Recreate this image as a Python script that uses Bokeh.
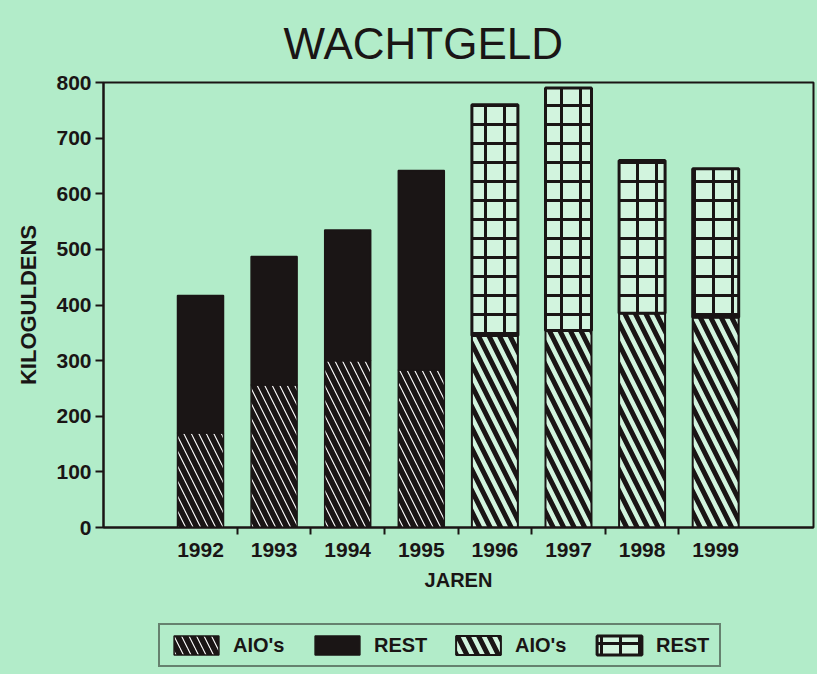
from bokeh.plotting import figure
from bokeh.models import (ColumnDataSource, FixedTicker, Range1d, Legend, LegendItem, Title)
from bokeh.layouts import column
from bokeh.transform import stack
from bokeh.embed import file_html
from bokeh.resources import INLINE

# ---- data ----
years = ["1992", "1993", "1994", "1995", "1996", "1997", "1998", "1999"]
aio_a = [170, 256, 300, 283]          # AIO's 1992-1995
rest_a = [247, 231, 235, 359]         # REST 1992-1995
aio_b = [345, 354, 385, 378]          # AIO's 1996-1999
rest_b = [415, 436, 275, 267]         # REST 1996-1999
y_ticks = [0, 100, 200, 300, 400, 500, 600, 700, 800]

pos = list(range(1, len(years) + 1))
src_a = ColumnDataSource(dict(x=pos[:4], aio=aio_a, rest=rest_a))
src_b = ColumnDataSource(dict(x=pos[4:], aio=aio_b, rest=rest_b))

BG = "#b2ecc9"
INK = "#1a1515"
LIGHT = "#d2f4de"
FONT = "Liberation Sans"
W = 0.625

STYLE_A_AIO = dict(fill_color=INK, line_color=INK, line_width=1.5, hatch_pattern="\\",
                   hatch_color="white", hatch_weight=1.1, hatch_scale=15)
STYLE_A_REST = dict(fill_color=INK, line_color=INK, line_width=1.5)
STYLE_B_AIO = dict(fill_color=LIGHT, line_color=INK, line_width=2, hatch_pattern="\\",
                   hatch_color=INK, hatch_weight=5, hatch_scale=21)
STYLE_B_REST = dict(fill_color=LIGHT, line_color=INK, line_width=3, hatch_pattern="+",
                    hatch_color=INK, hatch_weight=3, hatch_scale=19)


def draw_bars(fig, visible=True):
    r1 = fig.vbar(x="x", width=W, bottom=0, top=stack("aio"), source=src_a,
                  visible=visible, **STYLE_A_AIO)
    r2 = fig.vbar(x="x", width=W, bottom=stack("aio"), top=stack("aio", "rest"),
                  source=src_a, visible=visible, **STYLE_A_REST)
    r3 = fig.vbar(x="x", width=W, bottom=0, top=stack("aio"), source=src_b,
                  visible=visible, **STYLE_B_AIO)
    r4 = fig.vbar(x="x", width=W, bottom=stack("aio"), top=stack("aio", "rest"),
                  source=src_b, visible=visible, **STYLE_B_REST)
    return r1, r2, r3, r4


p = figure(frame_width=710, frame_height=445,
           min_border_left=103, min_border_right=4, min_border_top=82, min_border_bottom=70,
           x_range=Range1d(-0.318, 9.329), y_range=Range1d(0, 800),
           output_backend="svg", toolbar_location=None,
           background_fill_color=BG, border_fill_color=BG)
p.grid.visible = False
p.outline_line_color = INK
p.outline_line_width = 2
draw_bars(p)

# axes
xa = p.xaxis[0]
xa.ticker = FixedTicker(ticks=pos, minor_ticks=[x + 0.5 for x in pos[:-1]])
xa.major_label_overrides = {x: y for x, y in zip(pos, years)}
xa.major_tick_out = 0
xa.major_tick_in = 0
xa.minor_tick_out = 7
xa.minor_tick_in = 0
xa.minor_tick_line_color = INK
xa.minor_tick_line_width = 2
xa.axis_line_color = INK
xa.axis_line_width = 2
xa.major_label_standoff = 8
xa.major_label_text_font = FONT
xa.major_label_text_font_style = "bold"
xa.major_label_text_font_size = "21px"
xa.major_label_text_color = INK
xa.axis_label = "JAREN"
xa.axis_label_text_font = FONT
xa.axis_label_text_font_style = "bold"
xa.axis_label_text_font_size = "20px"
xa.axis_label_text_color = INK
xa.axis_label_standoff = 9

ya = p.yaxis[0]
ya.ticker = FixedTicker(ticks=y_ticks)
ya.minor_tick_line_color = None
ya.major_tick_out = 8
ya.major_tick_in = 0
ya.major_tick_line_color = INK
ya.major_tick_line_width = 2
ya.axis_line_color = INK
ya.axis_line_width = 2
ya.major_label_standoff = 4
ya.major_label_text_font = FONT
ya.major_label_text_font_style = "bold"
ya.major_label_text_font_size = "21px"
ya.major_label_text_color = INK
ya.axis_label = "KILOGULDENS"
ya.axis_label_text_font = FONT
ya.axis_label_text_font_style = "bold"
ya.axis_label_text_font_size = "22px"
ya.axis_label_text_color = INK
ya.axis_label_standoff = 12

p.title = Title(text="WACHTGELD", align="left", text_font=FONT,
                text_font_size="44px", text_font_style="normal",
                text_color=INK, standoff=29, offset=180)

# legend strip below the chart
p2 = figure(width=817, height=77, min_border=0,
            x_range=Range1d(0, 1), y_range=Range1d(0, 1),
            output_backend="svg", toolbar_location=None,
            background_fill_color=BG, border_fill_color=BG)
p2.axis.visible = False
p2.grid.visible = False
p2.outline_line_color = None
l1, l2, l3, l4 = draw_bars(p2, visible=False)

legend = Legend(items=[
    LegendItem(label="AIO's", renderers=[l1]),
    LegendItem(label="REST", renderers=[l2]),
    LegendItem(label="AIO's", renderers=[l3]),
    LegendItem(label="REST", renderers=[l4]),
], orientation="horizontal", location=(55, 7),
    glyph_width=56, glyph_height=24, label_standoff=9, label_width=55, spacing=21,
    padding=8, margin=0, click_policy="none",
    label_text_font=FONT, label_text_font_style="bold", label_text_font_size="20px",
    label_text_color=INK, border_line_color=INK, border_line_width=2,
    background_fill_alpha=0, inactive_fill_alpha=0)
p2.add_layout(legend, "center")

layout = column(p, p2, spacing=0, styles={"background-color": BG})
open("out.html", "w").write(file_html(layout, INLINE))
